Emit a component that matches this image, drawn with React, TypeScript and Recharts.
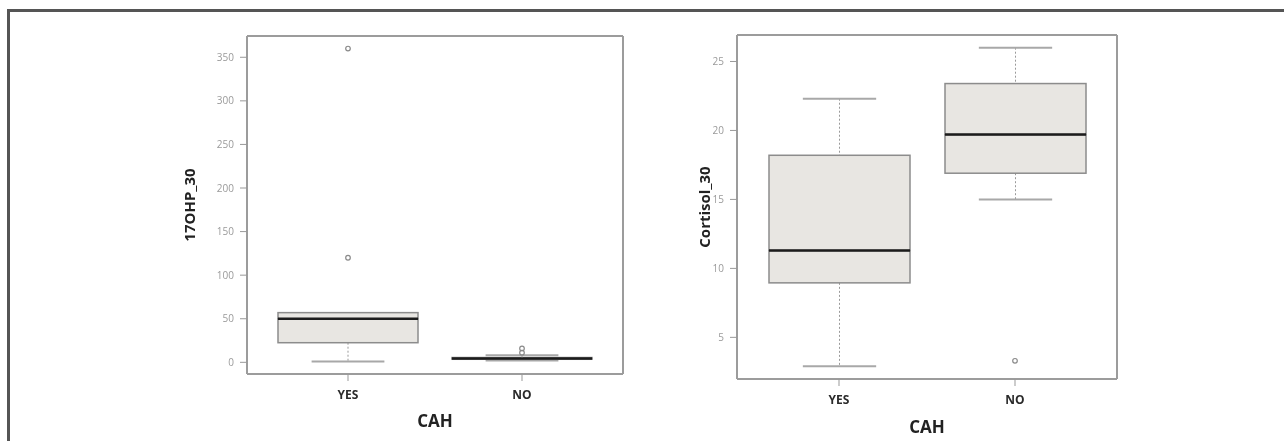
import * as React from 'react';
import { ComposedChart, Bar, Scatter, XAxis, YAxis, Label } from 'recharts';

// categories on the x axis
const groups = ['YES', 'NO'];

// 17OHP_30 five-number summaries per group
const ohpMin = [1, 2];
const ohpQ1 = [22.5, 3.5];
const ohpMed = [50, 4.5];
const ohpQ3 = [57, 5.5];
const ohpMax = [57, 8];
const ohpOut1 = [120, 11];
const ohpOut2 = [360, 16];
const ohpTicks = [0, 50, 100, 150, 200, 250, 300, 350];

// Cortisol_30 five-number summaries per group
const cortMin = [2.9, 15.0];
const cortQ1 = [8.95, 16.9];
const cortMed = [11.3, 19.7];
const cortQ3 = [18.2, 23.4];
const cortMax = [22.3, 26.0];
const cortOut1: (number | null)[] = [null, 3.3];
const cortTicks = [5, 10, 15, 20, 25];

const FRAME = '#9c9c9c';
const BOX_FILL = '#e8e6e2';
const BOX_STROKE = '#8c8c8c';

function toRows(mn: number[], q1: number[], md: number[], q3: number[], mx: number[], o1: (number | null)[], o2: (number | null)[]) {
  return groups.map((g, i) => ({
    cat: g,
    base: mn[i],
    lowW: q1[i] - mn[i],
    lowBox: md[i] - q1[i],
    highBox: q3[i] - md[i],
    highW: mx[i] - q3[i],
    o1: o1[i],
    o2: o2[i],
  }));
}

const Empty = () => <g />;

const whisker = (side: 'low' | 'high') => (p: any) => {
  const { x, y, width, height } = p;
  if (x == null || isNaN(y) || (side === 'high' && height <= 0)) return <g />;
  const cx = x + width / 2;
  const capY = side === 'low' ? y + height : y;
  const capW = width * 0.52;
  return (
    <g>
      {height > 0 && <line x1={cx} x2={cx} y1={y} y2={y + height} stroke="#9a9a9a" strokeWidth={1} strokeDasharray="2 2" />}
      <line x1={cx - capW / 2} x2={cx + capW / 2} y1={capY} y2={capY} stroke="#a8a8a8" strokeWidth={2} />
    </g>
  );
};

const LowBox = (p: any) => {
  const { x, y, width, height } = p;
  return <rect x={x} y={y} width={width} height={Math.max(height, 0)} fill={BOX_FILL} stroke={BOX_STROKE} strokeWidth={1.5} />;
};

const HighBox = (p: any) => {
  const { x, y, width, height } = p;
  return (
    <g>
      <rect x={x} y={y} width={width} height={Math.max(height, 0)} fill={BOX_FILL} stroke={BOX_STROKE} strokeWidth={1.5} />
      <line x1={x} x2={x + width} y1={y + height} y2={y + height} stroke="#1c1c1c" strokeWidth={2.5} />
    </g>
  );
};

const outlier = (key: string) => (p: any) => {
  const { cx, cy, payload } = p;
  if (payload == null || payload[key] == null || isNaN(cy)) return <g />;
  return <circle cx={cx} cy={cy} r={2.3} fill="none" stroke="#8a8a8a" strokeWidth={1.2} />;
};

interface PanelProps {
  rows: ReturnType<typeof toRows>;
  width: number;
  height: number;
  margin: { top: number; right: number; left: number; bottom: number };
  yWidth: number;
  xHeight: number;
  domain: [number, number];
  ticks: number[];
  barSize: number;
  yLabel: string;
  xLabelOffset: number;
  style?: React.CSSProperties;
}

function BoxPanel({ rows, width, height, margin, yWidth, xHeight, domain, ticks, barSize, yLabel, xLabelOffset, style }: PanelProps) {
  return (
    <div style={style}>
      <ComposedChart width={width} height={height} data={rows} margin={margin} barSize={barSize}>
        <XAxis dataKey="cat" height={xHeight} padding={{ left: 14, right: 14 }} axisLine={{ stroke: FRAME, strokeWidth: 2 }}
          tickLine={{ stroke: '#999' }} tickSize={7} tickMargin={9} tick={{ fill: '#2a2a2a', fontSize: 12, fontWeight: 700 }}>
          <Label value="CAH" position="insideBottom" offset={xLabelOffset} fill="#222" fontSize={17} fontWeight={700} />
        </XAxis>
        <XAxis xAxisId="top" orientation="top" dataKey="cat" height={1} padding={{ left: 14, right: 14 }} tick={false} tickLine={false}
          axisLine={{ stroke: FRAME, strokeWidth: 2 }} />
        <YAxis type="number" domain={domain} allowDataOverflow ticks={ticks} width={yWidth} axisLine={{ stroke: FRAME, strokeWidth: 2 }}
          tickLine={{ stroke: '#999' }} tickSize={7} tickMargin={6} tick={{ fill: '#9a9a9a', fontSize: 10 }}>
          <Label value={yLabel} angle={-90} position="center" fill="#222" fontSize={15} fontWeight={700} />
        </YAxis>
        <YAxis yAxisId="right" orientation="right" type="number" width={1} domain={domain} allowDataOverflow tick={false} tickLine={false}
          axisLine={{ stroke: FRAME, strokeWidth: 2 }} />
        <Bar dataKey="base" stackId="b" shape={Empty} isAnimationActive={false} />
        <Bar dataKey="lowW" stackId="b" shape={whisker('low')} isAnimationActive={false} />
        <Bar dataKey="lowBox" stackId="b" shape={LowBox} isAnimationActive={false} />
        <Bar dataKey="highBox" stackId="b" shape={HighBox} isAnimationActive={false} />
        <Bar dataKey="highW" stackId="b" shape={whisker('high')} isAnimationActive={false} />
        <Scatter dataKey="o1" shape={outlier('o1')} isAnimationActive={false} />
        <Scatter dataKey="o2" shape={outlier('o2')} isAnimationActive={false} />
        {/* hidden series so the top and right frame axes get a domain */}
        <Scatter dataKey="base" xAxisId="top" yAxisId="right" shape={Empty} isAnimationActive={false} />
      </ComposedChart>
    </div>
  );
}

export default function App() {
  const ohpRows = toRows(ohpMin, ohpQ1, ohpMed, ohpQ3, ohpMax, ohpOut1, ohpOut2);
  const cortRows = toRows(cortMin, cortQ1, cortMed, cortQ3, cortMax, cortOut1, [null, null]);
  return (
    <div style={{ position: 'relative', width: 1268, height: 425, fontFamily: '"Open Sans", sans-serif', background: '#fff' }}>
      <div style={{ position: 'fixed', left: 7, top: 9, width: 1320, height: 520, borderTop: '3px solid #555', borderLeft: '3px solid #555', pointerEvents: 'none' }} />
      <BoxPanel rows={ohpRows} width={640} height={430} margin={{ top: 27, right: 24, left: 125, bottom: 0 }} yWidth={114} xHeight={64}
        domain={[-13.4, 374.4]} ticks={ohpTicks} barSize={140} yLabel="17OHP_30" xLabelOffset={11}
        style={{ position: 'absolute', left: 0, top: 0 }} />
      <BoxPanel rows={cortRows} width={510} height={430} margin={{ top: 26, right: 40, left: 25, bottom: 0 }} yWidth={64} xHeight={59}
        domain={[1.98, 26.92]} ticks={cortTicks} barSize={141} yLabel="Cortisol_30" xLabelOffset={5}
        style={{ position: 'absolute', left: 640, top: 0 }} />
    </div>
  );
}
